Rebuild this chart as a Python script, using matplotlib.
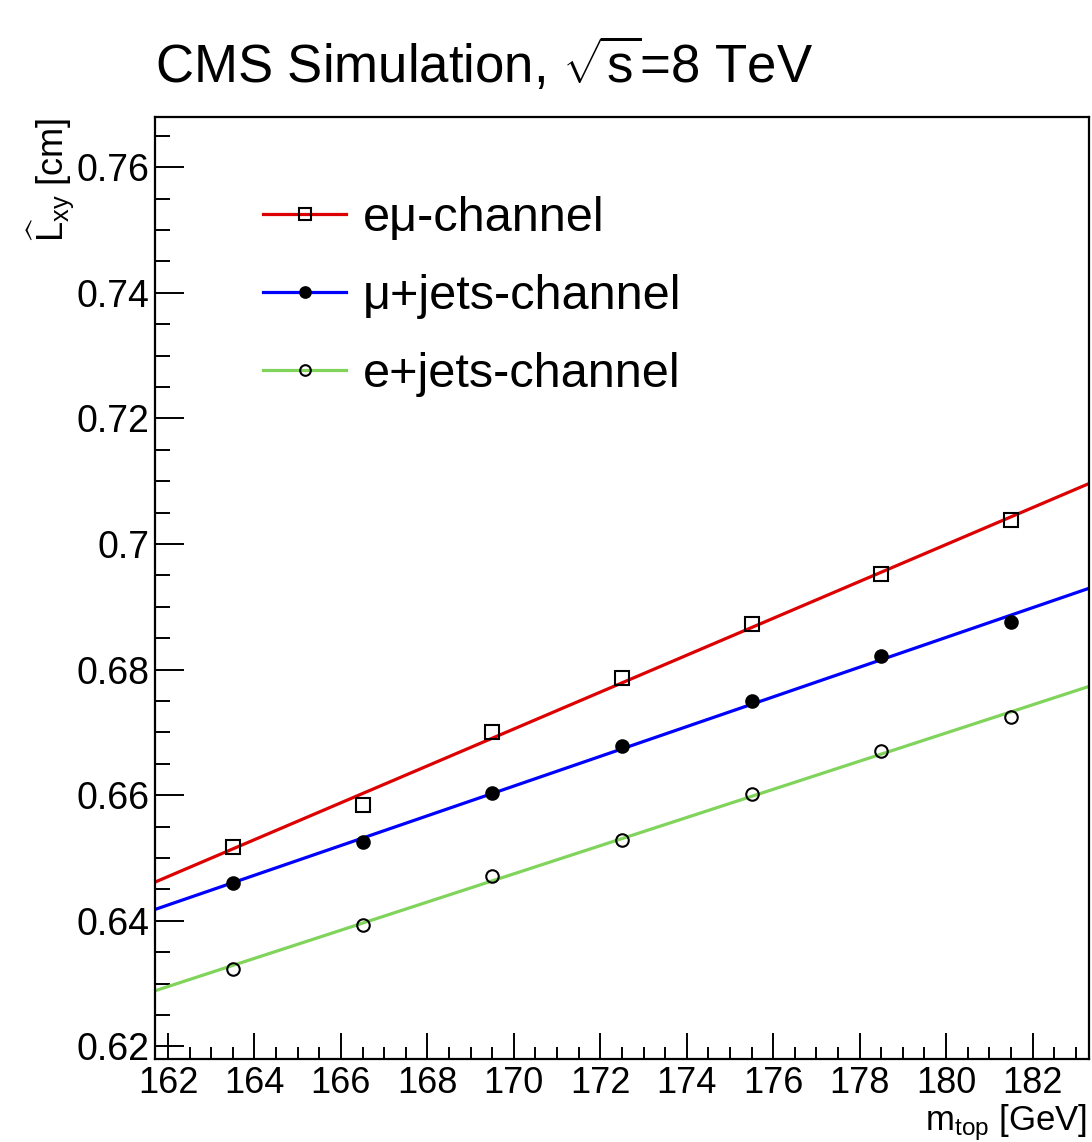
import numpy as np
import matplotlib
matplotlib.use("Agg")
from matplotlib import pyplot as plt
from matplotlib.ticker import MultipleLocator

plt.rcParams['font.family'] = ['Liberation Sans', 'DejaVu Sans']
plt.rcParams['mathtext.fontset'] = 'custom'
plt.rcParams['mathtext.rm'] = 'Liberation Sans'
plt.rcParams['mathtext.it'] = 'Liberation Sans:italic'

# top mass points (GeV) and fitted <Lxy> (cm) per channel
m_top = [163.5, 166.5, 169.5, 172.5, 175.5, 178.5, 181.5]
lxy_emu = [0.6518, 0.6585, 0.6700, 0.6786, 0.6873, 0.6952, 0.7038]
lxy_mujets = [0.6460, 0.6525, 0.6604, 0.6679, 0.6750, 0.6822, 0.6876]
lxy_ejets = [0.6324, 0.6394, 0.6472, 0.6529, 0.6602, 0.6671, 0.6724]

labels = ['e\u03bc-channel', '\u03bc+jets-channel', 'e+jets-channel']
colors = ['#dd0000', '#0000ff', '#80d45c']
markers = ['s', 'o', 'o']
faces = ['none', 'black', 'none']

xmin, xmax = 161.7, 183.3
ymin, ymax = 0.618, 0.768

fig = plt.figure(figsize=(10.92, 11.42), dpi=100)
ax = fig.add_axes([0.142, 0.0727, 0.855, 0.8249])

xx = np.array([xmin, xmax])
for ys, c, mk, fc, lab in zip([lxy_emu, lxy_mujets, lxy_ejets], colors, markers, faces, labels):
    # straight-line fit, drawn across the whole range
    p = np.polyfit(m_top, ys, 1)
    ax.plot(xx, np.polyval(p, xx), color=c, lw=2.3, zorder=2)
    ax.plot(m_top, ys, ls='none', marker=mk, ms=10 if mk == 's' else 9,
            mfc=fc, mec='black', mew=1.5, zorder=3)
    # legend proxy
    ax.plot([], [], color=c, lw=2.3, marker=mk, ms=10 if mk == 's' else 9,
            mfc=fc, mec='black', mew=1.5, label=lab)

ax.set_xlim(xmin, xmax)
ax.set_ylim(ymin, ymax)

ax.xaxis.set_major_locator(MultipleLocator(2))
ax.xaxis.set_minor_locator(MultipleLocator(0.5))
ax.yaxis.set_major_locator(MultipleLocator(0.02))
ax.yaxis.set_minor_locator(MultipleLocator(0.005))
ax.yaxis.set_major_formatter(plt.FuncFormatter(lambda v, _: ('%.2f' % v).rstrip('0')))

ax.tick_params(which='both', direction='in', top=False, right=False, width=1.4, labelsize=27)
ax.tick_params(axis='y', which='major', length=21, pad=4)
ax.tick_params(axis='y', which='minor', length=11)
ax.tick_params(axis='x', which='major', length=19, pad=5, labelsize=26)
ax.tick_params(axis='x', which='minor', length=9)
for s in ax.spines.values():
    s.set_linewidth(1.6)

leg = ax.legend(loc='upper left', bbox_to_anchor=(0.095, 0.937), frameon=False,
                fontsize=35, handlelength=1.7, handletextpad=0.35,
                labelspacing=0.68, markerscale=0.85, borderaxespad=0)

fig.text(0.142, 0.927, r'CMS Simulation, $\sqrt{\mathrm{s}}$=8 TeV', fontsize=38,
         ha='left', va='baseline')
fig.text(0.047, 0.897, r'$\widehat{\mathrm{L}}_{\mathrm{xy}}$ [cm]', fontsize=26,
         rotation=90, ha='center', va='top')
fig.text(0.996, 0.0105, r'm$_{\mathrm{top}}$ [GeV]', fontsize=25, ha='right', va='baseline')

fig.savefig('out.png', dpi=100)
